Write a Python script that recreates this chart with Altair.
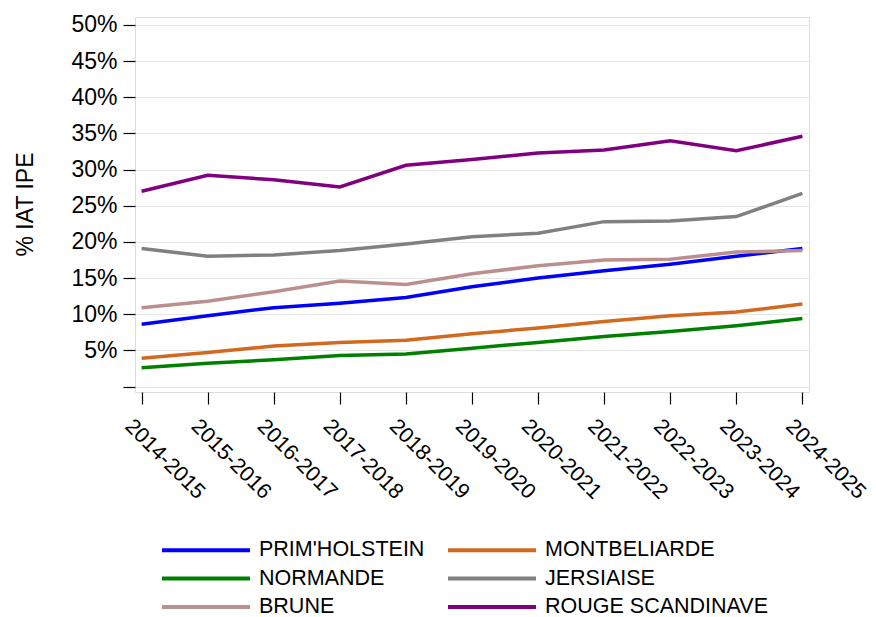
import altair as alt
import pandas as pd

seasons = ["2014-2015", "2015-2016", "2016-2017", "2017-2018", "2018-2019",
           "2019-2020", "2020-2021", "2021-2022", "2022-2023", "2023-2024", "2024-2025"]

# legend is filled column by column: first column, then second column
breeds = ["PRIM'HOLSTEIN", "NORMANDE", "BRUNE", "MONTBELIARDE", "JERSIAISE", "ROUGE SCANDINAVE"]
colors = ["#0000FF", "#008000", "#BC8F8F", "#D2691E", "#808080", "#800080"]

prim_holstein = [8.6, 9.8, 10.9, 11.5, 12.3, 13.8, 15.0, 16.0, 16.9, 18.0, 19.1]
normande = [2.6, 3.2, 3.7, 4.3, 4.5, 5.3, 6.1, 6.9, 7.6, 8.4, 9.4]
brune = [10.9, 11.8, 13.1, 14.6, 14.1, 15.6, 16.7, 17.5, 17.6, 18.6, 18.8]
montbeliarde = [3.9, 4.7, 5.6, 6.1, 6.4, 7.3, 8.1, 9.0, 9.8, 10.3, 11.4]
jersiaise = [19.1, 18.0, 18.2, 18.8, 19.7, 20.7, 21.2, 22.8, 22.9, 23.5, 26.7]
rouge_scandinave = [27.0, 29.2, 28.6, 27.6, 30.6, 31.4, 32.3, 32.7, 34.0, 32.6, 34.6]

y_ticks = [0, 5, 10, 15, 20, 25, 30, 35, 40, 45, 50]

series = [prim_holstein, normande, brune, montbeliarde, jersiaise, rouge_scandinave]
rows = []
for b, vals in zip(breeds, series):
    for s, v in zip(seasons, vals):
        rows.append({"saison": s, "race": b, "pct": v})
df = pd.DataFrame(rows)

FONT = "Liberation Sans"

chart = alt.Chart(df).mark_line(strokeWidth=3.5).encode(
    x=alt.X("saison:O", sort=seasons,
            scale=alt.Scale(type="point", padding=0.1),
            axis=alt.Axis(title=None, labelAngle=45, labelAlign="left", labelBaseline="top",
                          labelPadding=11, labelOffset=-6, labelFontSize=21.5, labelFont=FONT,
                          labelColor="black", tickSize=12, tickColor="black", tickWidth=1.2,
                          domain=False, grid=False, labelOverlap=False, labelBound=False)),
    y=alt.Y("pct:Q", scale=alt.Scale(domain=[-0.76, 51.1], nice=False, zero=False),
            axis=alt.Axis(values=y_ticks, title="% IAT IPE",
                          labelExpr="datum.value == 0 ? '' : datum.value + '%'",
                          labelFontSize=23, labelFont=FONT, labelColor="black", labelPadding=6,
                          tickSize=12, tickColor="black", tickWidth=1.2, domain=False,
                          grid=True, gridColor="#e6e6e6", gridWidth=1,
                          titleFont=FONT, titleFontSize=23, titleFontWeight="normal",
                          titleColor="black", titleX=-110, titleY=187, titleAngle=270,
                          titleAlign="center", titleBaseline="middle")),
    color=alt.Color("race:N", title=None,
                    scale=alt.Scale(domain=breeds, range=colors),
                    legend=alt.Legend(orient="none", legendX=58, legendY=520, columns=2,
                                      symbolType="M-4,0H4", symbolSize=484, symbolStrokeWidth=4,
                                      symbolFillColor="transparent",
                                      labelFontSize=21.5, labelFont=FONT, labelColor="black",
                                      labelOffset=40, rowPadding=4.5, columnPadding=15,
                                      labelLimit=400)),
    detail="race:N",
).properties(
    width=674, height=375,
    autosize=alt.AutoSizeParams(type="none"),
    padding={"left": 127, "top": 9, "right": 59, "bottom": 225},
).configure_view(
    stroke="black", strokeWidth=1.5
).configure(background="white")

chart.save("out.html", embed_options={"renderer": "svg", "actions": False})
